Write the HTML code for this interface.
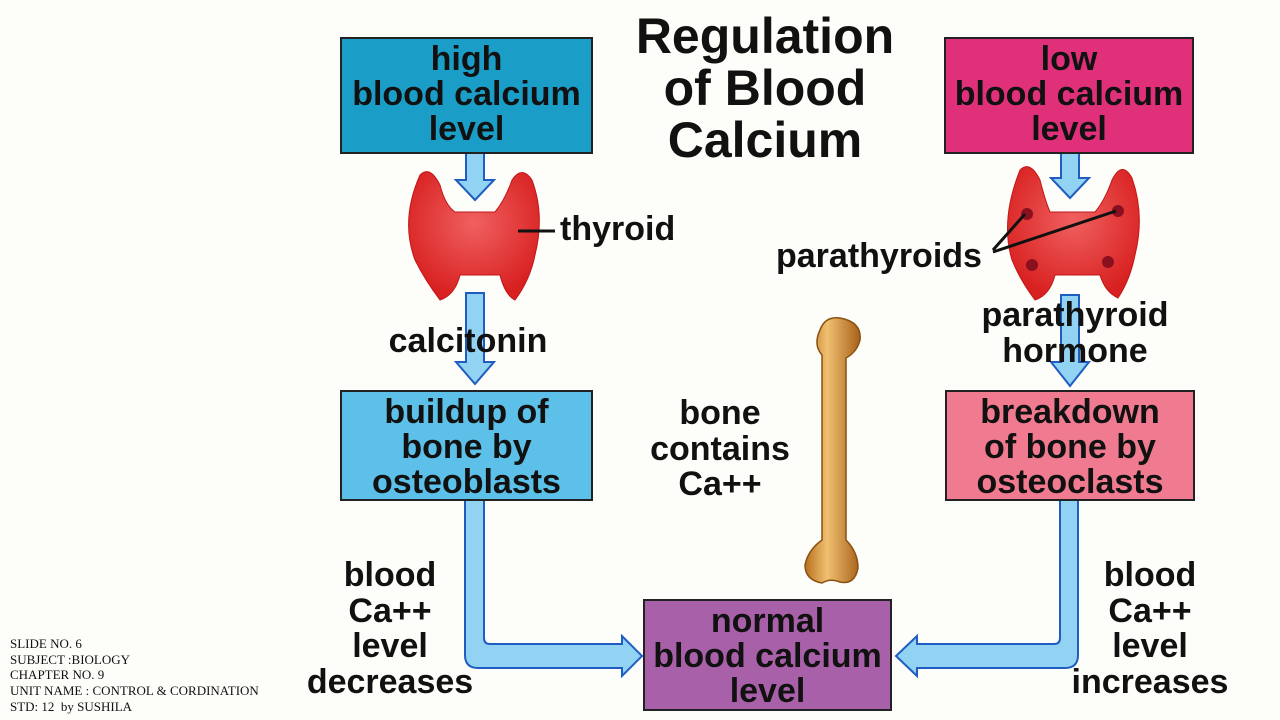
<!DOCTYPE html>
<html><head><style>
body{margin:0;width:1280px;height:720px;background:#fdfdf9;position:relative;overflow:hidden;font-family:"Liberation Sans",Arial,sans-serif}
.b{position:absolute;border:2px solid #222;box-sizing:border-box;text-align:center;font-weight:bold;font-size:34px;line-height:35px;color:#111;padding-top:3px}
.t{position:absolute;text-align:center;font-weight:bold;font-size:34px;line-height:35.5px;color:#111}
.s{position:absolute;left:10px;top:636px;font-family:"Liberation Serif",serif;font-size:13px;line-height:15.7px;color:#111}
</style></head><body>
<svg width="1280" height="720" style="position:absolute;left:0;top:0">
<defs>
<radialGradient id="r" cx="50%" cy="40%" r="60%"><stop offset="0" stop-color="#f06060"/><stop offset="1" stop-color="#d82020"/></radialGradient>
<linearGradient id="bn" x1="0" x2="1"><stop offset="0" stop-color="#b87020"/><stop offset="0.4" stop-color="#f0c070"/><stop offset="1" stop-color="#a86018"/></linearGradient>
</defs>
<g fill="#92d2f2" stroke="#1f5ec0" stroke-width="2">
<path d="M466 153 H484 V180 H494 L475 200 L456 180 H466 Z"/>
<path d="M466 293 H484 V362 H494 L475 384 L456 362 H466 Z"/>
<path d="M1061 153 H1079 V178 H1089 L1070 198 L1051 178 H1061 Z"/>
<path d="M1061 295 H1079 V362 H1089 L1070 386 L1051 362 H1061 Z"/>
<path d="M465 500 H484 V638 Q484 644 490 644 H622 V636 L642 656 L622 676 V668 H478 Q465 668 465 655 Z"/>
<path d="M1060 500 H1078 V655 Q1078 668 1065 668 H917 V676 L896 656 L917 636 V644 H1054 Q1060 644 1060 638 Z"/>
</g>
<path d="M420 175 Q430 165 440 185 Q445 205 455 212 H495 Q505 200 512 180 Q522 165 532 180 Q545 215 535 255 Q530 280 515 300 Q505 295 500 275 H460 Q455 295 440 300 Q425 280 415 260 Q400 220 420 175 Z" fill="url(#r)" stroke="#c01818"/>
<line x1="518" y1="231" x2="555" y2="231" stroke="#111" stroke-width="3"/>
<path d="M1020 170 Q1030 160 1040 180 Q1045 200 1050 212 H1095 Q1105 200 1112 180 Q1122 160 1132 178 Q1145 215 1135 255 Q1130 280 1118 298 Q1105 292 1100 275 H1055 Q1050 295 1035 300 Q1020 280 1012 260 Q1000 220 1020 170 Z" fill="url(#r)" stroke="#c01818"/>
<g fill="#8a1020"><circle cx="1027" cy="214" r="6"/><circle cx="1118" cy="211" r="6"/><circle cx="1032" cy="265" r="6"/><circle cx="1108" cy="262" r="6"/></g>
<line x1="993" y1="250" x2="1025" y2="214" stroke="#111" stroke-width="3"/>
<line x1="993" y1="252" x2="1116" y2="211" stroke="#111" stroke-width="3"/>
<path d="M820 330 Q825 316 840 318 Q862 322 860 340 Q857 352 846 358 L846 540 Q858 552 858 568 Q855 585 840 582 Q830 578 822 583 Q805 580 805 565 Q808 550 822 540 L822 355 Q813 345 820 330 Z" fill="url(#bn)" stroke="#8a5010" stroke-width="1.5"/>
</svg>
<div class="b" style="left:340px;top:37px;width:253px;height:117px;background:#1a9ec8">high<br>blood calcium<br>level</div>
<div class="b" style="left:944px;top:37px;width:250px;height:117px;background:#e03079">low<br>blood calcium<br>level</div>
<div class="b" style="left:340px;top:390px;width:253px;height:111px;background:#5cc0e8">buildup of<br>bone by<br>osteoblasts</div>
<div class="b" style="left:945px;top:390px;width:250px;height:111px;background:#f07b90">breakdown<br>of bone by<br>osteoclasts</div>
<div class="b" style="left:643px;top:599px;width:249px;height:112px;background:#a860a8">normal<br>blood calcium<br>level</div>
<div class="t" style="left:600px;top:10px;width:330px;font-size:50px;line-height:52px">Regulation<br>of Blood<br>Calcium</div>
<div class="t" style="left:560px;top:212px">thyroid</div>
<div class="t" style="left:776px;top:239px">parathyroids</div>
<div class="t" style="left:368px;top:324px;width:200px">calcitonin</div>
<div class="t" style="left:960px;top:298px;width:230px">parathyroid<br>hormone</div>
<div class="t" style="left:620px;top:396px;width:200px">bone<br>contains<br>Ca++</div>
<div class="t" style="left:290px;top:558px;width:200px">blood<br>Ca++<br>level<br>decreases</div>
<div class="t" style="left:1050px;top:558px;width:200px">blood<br>Ca++<br>level<br>increases</div>
<div class="s">SLIDE NO. 6<br>SUBJECT :BIOLOGY<br>CHAPTER NO. 9<br>UNIT NAME : CONTROL &amp; CORDINATION<br>STD: 12&nbsp; by SUSHILA</div>
</body></html>
